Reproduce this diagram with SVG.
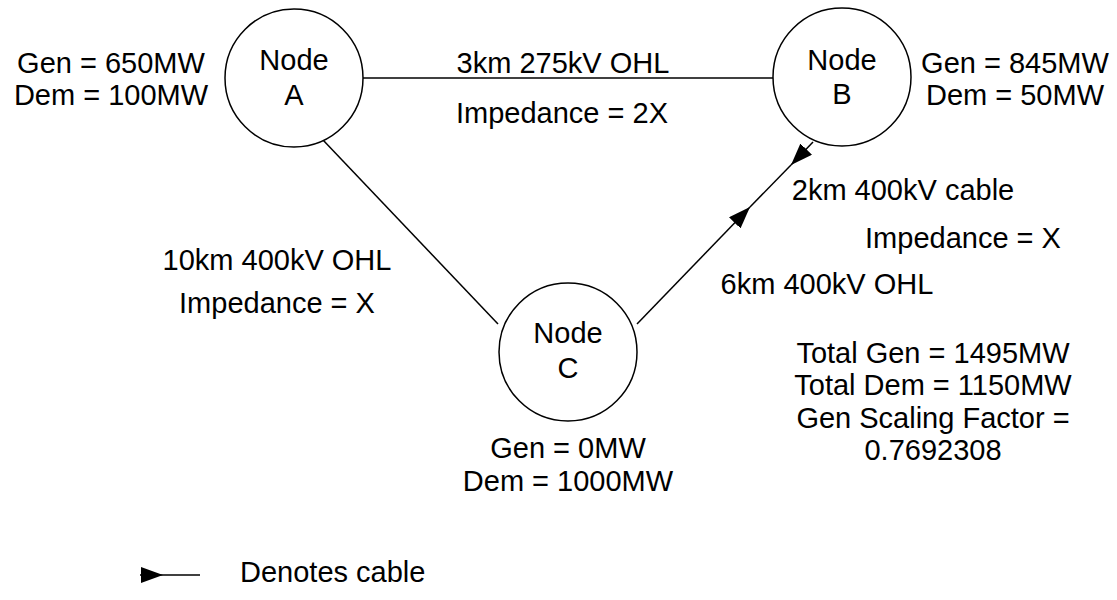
<svg xmlns="http://www.w3.org/2000/svg" width="1117" height="600" viewBox="0 0 1117 600">
<style>
text{font-family:"Liberation Sans",Arial,sans-serif;font-size:29px;fill:#000;text-anchor:middle}
.n{fill:#fff;stroke:#000;stroke-width:1.5}
.c{stroke:#000;stroke-width:1.5;fill:none}
</style>
<defs>
<marker id="ah" markerUnits="userSpaceOnUse" markerWidth="24" markerHeight="18" refX="22" refY="8" orient="auto">
<path d="M0,0 L22,8 L0,16 z" fill="#000"/>
</marker>
</defs>
<rect width="1117" height="600" fill="#fff"/>
<g id="connectors">
<line class="c" x1="363" y1="78" x2="773" y2="78"/>
<line class="c" x1="323" y1="140" x2="498" y2="324"/>
<line class="c" x1="637" y1="324" x2="750" y2="207" marker-end="url(#ah)"/>
<line class="c" x1="750" y1="207" x2="791" y2="165"/>
<line class="c" x1="813" y1="142" x2="791" y2="165" marker-end="url(#ah)"/>
</g>
<g id="nodeA">
<circle class="n" cx="294" cy="78" r="69"/>
<text x="294" y="70">Node</text>
<text x="294" y="105">A</text>
</g>
<g id="nodeB">
<circle class="n" cx="842" cy="77" r="69"/>
<text x="842" y="70">Node</text>
<text x="842" y="104">B</text>
</g>
<g id="nodeC">
<circle class="n" cx="568" cy="352" r="69"/>
<text x="568" y="343">Node</text>
<text x="568" y="378">C</text>
</g>
<g id="labels">
<text x="111" y="73">Gen = 650MW</text>
<text x="111" y="105">Dem = 100MW</text>
<text x="1015" y="73">Gen = 845MW</text>
<text x="1015" y="105">Dem = 50MW</text>
<text x="563" y="73">3km 275kV OHL</text>
<text x="562" y="123">Impedance = 2X</text>
<text x="277" y="270">10km 400kV OHL</text>
<text x="277" y="313">Impedance = X</text>
<text x="568" y="458">Gen = 0MW</text>
<text x="568" y="491">Dem = 1000MW</text>
<text x="903" y="200">2km 400kV cable</text>
<text x="963" y="248">Impedance = X</text>
<text x="827" y="294">6km 400kV OHL</text>
<text x="933" y="363">Total Gen = 1495MW</text>
<text x="933" y="395">Total Dem = 1150MW</text>
<text x="933" y="428">Gen Scaling Factor =</text>
<text x="933" y="460">0.7692308</text>
</g>
<g id="legend">
<line class="c" x1="140" y1="575" x2="163" y2="575" marker-end="url(#ah)"/>
<line class="c" x1="163" y1="575" x2="200" y2="575"/>
<text x="240" y="582" style="text-anchor:start">Denotes cable</text>
</g>
</svg>
